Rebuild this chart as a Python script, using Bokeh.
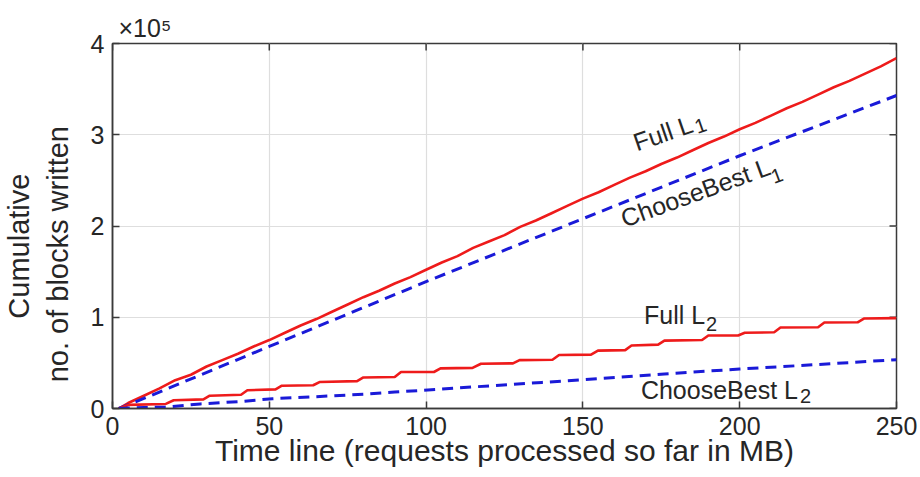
import math
from bokeh.plotting import figure
from bokeh.models import Label, FixedTicker, Range1d
from bokeh.embed import file_html
from bokeh.resources import INLINE

# ---- data (y values in units of 1e5 blocks) ----
full_l1_x = [2, 5, 10, 15, 20, 25, 30, 35, 40, 45, 50, 55, 60, 65, 70, 75, 80, 85, 90, 95, 100,
             105, 110, 115, 120, 125, 130, 135, 140, 145, 150, 155, 160, 165, 170, 175, 180,
             185, 190, 195, 200, 205, 210, 215, 220, 225, 230, 235, 240, 245, 250]
full_l1_y = [0.0, 0.06, 0.14, 0.22, 0.31, 0.37, 0.46, 0.53, 0.60, 0.68, 0.75, 0.83, 0.91, 0.98,
             1.06, 1.14, 1.22, 1.29, 1.37, 1.44, 1.52, 1.60, 1.67, 1.76, 1.83, 1.90, 1.99, 2.06,
             2.14, 2.22, 2.30, 2.37, 2.45, 2.53, 2.60, 2.68, 2.75, 2.83, 2.91, 2.98, 3.06, 3.13,
             3.21, 3.29, 3.36, 3.44, 3.52, 3.59, 3.67, 3.75, 3.84]

best_l1_x = [2, 10, 50, 100, 150, 200, 250]
best_l1_y = [0.0, 0.11, 0.68, 1.39, 2.08, 2.77, 3.43]

full_l2_x = [2, 5, 17, 19.5, 29, 31, 41, 43, 52, 54, 64, 66, 78, 80, 90, 92, 102.5, 104.6,
             114.8, 117.5, 127.7, 129.8, 140.3, 142.4, 152.6, 154.8, 163.5, 165.5, 174, 176,
             188, 190, 199.5, 201.6, 211, 213, 225, 227, 237.6, 239.6, 250]
full_l2_y = [0.0, 0.04, 0.05, 0.09, 0.10, 0.14, 0.15, 0.20, 0.21, 0.25, 0.255, 0.29, 0.30, 0.34,
             0.345, 0.40, 0.40, 0.44, 0.445, 0.49, 0.495, 0.53, 0.535, 0.587, 0.59, 0.634, 0.64,
             0.69, 0.70, 0.744, 0.75, 0.80, 0.80, 0.83, 0.835, 0.887, 0.89, 0.942, 0.945, 0.986, 0.99]

best_l2_x = [2, 10, 17, 28, 41, 51, 65, 81, 90, 105, 121, 137, 150, 176, 200, 224, 250]
best_l2_y = [0.0, 0.01, 0.015, 0.05, 0.077, 0.107, 0.13, 0.158, 0.18, 0.213, 0.25, 0.286,
             0.315, 0.378, 0.433, 0.48, 0.535]

x_ticks = [0, 50, 100, 150, 200, 250]
y_ticks = [0, 1, 2, 3, 4]

FONT = "Liberation Sans"
TXT = "#262626"
AX = "#3a3a3a"
RED = "#ee1b1b"
BLUE = "#1a1ad8"

p = figure(width=920, height=477, output_backend="svg", toolbar_location=None,
           x_range=Range1d(0, 250), y_range=Range1d(0, 4),
           min_border_left=112, min_border_right=24, min_border_top=43, min_border_bottom=69)
p.background_fill_color = "white"
p.border_fill_color = "white"
p.outline_line_color = AX
p.outline_line_width = 1.5

# exponent note above the axes
p.title.text = "\u00d710\u2075"
p.title.align = "left"
p.title.offset = 6
p.title.standoff = 3
p.title.text_font = FONT
p.title.text_font_size = "25px"
p.title.text_font_style = "normal"
p.title.text_color = TXT

for ax in (p.xaxis[0], p.yaxis[0]):
    ax.major_label_text_font = FONT
    ax.major_label_text_font_size = "25px"
    ax.major_label_text_color = TXT
    ax.axis_line_color = AX
    ax.axis_line_width = 1.5
    ax.major_tick_in = 7
    ax.major_tick_out = 0
    ax.major_tick_line_color = AX
    ax.major_tick_line_width = 1.5
    ax.minor_tick_line_color = None
    ax.axis_label_text_font = FONT
    ax.axis_label_text_font_size = "29px"
    ax.axis_label_text_font_style = "normal"
    ax.axis_label_text_color = TXT
p.xaxis[0].ticker = FixedTicker(ticks=x_ticks)
p.yaxis[0].ticker = FixedTicker(ticks=y_ticks)
p.xaxis[0].major_label_standoff = 8
p.yaxis[0].major_label_standoff = 8
p.xaxis[0].axis_label = "Time line (requests processed so far in MB)"
p.xaxis[0].axis_label_text_font_size = "30px"
p.xaxis[0].axis_label_standoff = -4
p.yaxis[0].axis_label = "Cumulative     \nno. of blocks written       "
p.yaxis[0].axis_label_standoff = 14

p.xgrid.ticker = FixedTicker(ticks=x_ticks)
p.ygrid.ticker = FixedTicker(ticks=y_ticks)
p.grid.grid_line_color = "#dedede"
p.grid.grid_line_width = 1.2

# mirrored inward ticks on the top and right edges of the box
p.ray(x=x_ticks, y=[y_ticks[-1]] * len(x_ticks), length=7, length_units="screen",
      angle=-math.pi / 2, line_color=AX, line_width=1.5)
p.ray(x=[x_ticks[-1]] * len(y_ticks), y=y_ticks, length=7, length_units="screen",
      angle=math.pi, line_color=AX, line_width=1.5)

p.line(full_l1_x, full_l1_y, line_color=RED, line_width=2.6)
p.line(best_l1_x, best_l1_y, line_color=BLUE, line_width=3, line_dash="11 7")
p.line(full_l2_x, full_l2_y, line_color=RED, line_width=2.6)
p.line(best_l2_x, best_l2_y, line_color=BLUE, line_width=3, line_dash="11 7")

YO = 9  # baseline correction in pixels

def lab(x, y, text, size="25px", angle=0.0, xo=0, yo=0):
    p.add_layout(Label(x=x, y=y, text=text, x_offset=xo, y_offset=yo + YO, angle=angle,
                       text_font=FONT, text_font_size=size, text_color=TXT,
                       text_align="left", text_baseline="alphabetic"))

def sublabel(x, y, base, sub, width, drop, angle_deg):
    a = math.radians(angle_deg)
    lab(x, y, base, angle=a)
    dx = width * math.cos(a) + drop * math.sin(a)
    dy = width * math.sin(a) - drop * math.cos(a)
    lab(x, y, sub, size="20px", angle=a, xo=dx, yo=dy)

sublabel(166.3, 2.81, "Full L", "1", 63, 5, 19)
sublabel(162.4, 1.975, "ChooseBest L", "1", 155, 12, 20)
sublabel(169.5, 0.93, "Full L", "2", 62, 9, 0)
sublabel(168.5, 0.107, "ChooseBest L", "2", 159, 6, 0)

open("out.html", "w").write(file_html(p, INLINE))
